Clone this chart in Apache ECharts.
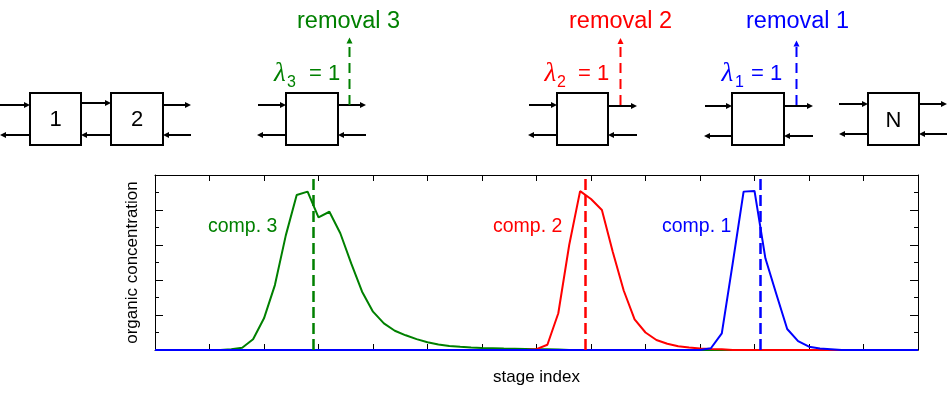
<!DOCTYPE html>
<html><head><meta charset="utf-8">
<script src="https://cdn.jsdelivr.net/npm/echarts@6/dist/echarts.min.js"></script>
<style>html,body{margin:0;padding:0;background:#fff}#c{width:948px;height:395px}</style>
</head><body><div id="c"></div>
<script>
// ---- data ----
const stages = [0,1,2,3,4,5,6,7,8,9,10,11,12,13,14,15,16,17,18,19,20,21,22,23,24,25,26,27,28,29,30,
  31,32,33,34,35,36,37,38,39,40,41,42,43,44,45,46,47,48,49,50,51,52,53,54,55,56,57,58,59,60,
  61,62,63,64,65,66,67,68,69,70];
const comp3 = [0,0,0,0,0,0,0,0.004,0.013,0.061,0.181,0.371,0.655,0.886,0.905,0.758,0.790,0.667,0.495,0.333,0.219,
  0.152,0.110,0.084,0.062,0.044,0.032,0.023,0.018,0.014,0.011,0.010,0.008,0.007,0.006,0.005,0.004,0.003,0,0,0,
  0,0,0,0,0,0,0,0,0,0,0,0,0,0,0,0,0,0,0,0,0,0,0,0,0,0,0,0,0,0];
const comp2 = [0,0,0,0,0,0,0,0,0,0,0,0,0,0,0,0,0,0,0,0,0,0,0,0,0,0,0,0,0,0,0,0,0,0,0,
  0.005,0.030,0.210,0.600,0.908,0.863,0.800,0.560,0.340,0.175,0.100,0.057,0.036,0.022,0.014,0.009,0.006,0.004,
  0,0,0,0,0,0,0,0,0,0,0,0,0,0,0,0,0,0];
const comp1 = [0,0,0,0,0,0,0,0,0,0,0,0,0,0,0,0,0,0,0,0,0,0,0,0,0,0,0,0,0,0,0,0,0,0,0,0,0,0,0,0,0,0,0,0,0,0,0,0,0,0,0,
  0.010,0.095,0.495,0.905,0.909,0.524,0.320,0.120,0.051,0.019,0.008,0.004,0,0,0,0,0,0,0,0];
const removalStages = [14.5, 39.5, 55.5];   // comp. 3, comp. 2, comp. 1
const compNames = ['comp. 3', 'comp. 2', 'comp. 1'];
const removalNames = ['removal 3', 'removal 2', 'removal 1'];
const lambdaSubs = ['3', '2', '1'];
const boxLabels = ['1', '2', 'N'];
const xTicks = { min: 0, max: 70, interval: 5 };
const yTicks = { min: 0, max: 1, interval: 0.2 };

// ---- styles ----
const colors = ['#008000', '#ff0000', '#0000ff'];
const SANS = '"Liberation Sans", Arial, sans-serif';
const SERIF = '"Liberation Serif", "Times New Roman", serif';

const chart = echarts.init(document.getElementById('c'), null, { renderer: 'canvas' });

function txt(x, y, text, color, size, opts) {
  opts = opts || {};
  const align = opts.align || 'left';
  return {
    type: 'text', x: x, y: y, z: 10,
    style: {
      text: text, fill: color,
      font: (opts.italic ? 'italic ' : '') + size + 'px ' + (opts.family || SANS),
      align: align, textAlign: align, verticalAlign: 'middle', textVerticalAlign: 'middle'
    }
  };
}
function arrow(x1, x2, y) {
  const d = Math.sign(x2 - x1), head = 6, hw = 3;
  return [
    { type: 'line', shape: { x1: x1, y1: y, x2: x2 - d * head, y2: y }, style: { stroke: '#000', lineWidth: 2 } },
    { type: 'polygon', shape: { points: [[x2, y], [x2 - d * head, y - hw], [x2 - d * head, y + hw]] }, style: { fill: '#000' } }
  ];
}
function upArrow(x, y1, y2, color) {
  return [
    { type: 'line', shape: { x1: x, y1: y1, x2: x, y2: y2 + 6 }, style: { stroke: color, lineWidth: 2, lineDash: [10, 6] } },
    { type: 'polygon', shape: { points: [[x, y2], [x - 3, y2 + 6], [x + 3, y2 + 6]] }, style: { fill: color } }
  ];
}
function box(x, w) {
  return { type: 'rect', shape: { x: x, y: 93, width: w, height: 52 }, style: { fill: '#fff', stroke: '#000', lineWidth: 2 } };
}

const g = [];
// boxes
[[30, 51], [111, 52], [286, 52], [557, 51], [732, 52], [868, 51]].forEach(b => g.push(box(b[0], b[1])));
// arrows
[[0,30,105],[30,0,135],[81,111,103],[111,81,135],[163,191,105],[191,163,135],
 [258,286,105],[286,257,135],[338,366,105],[366,338,135],
 [529,557,105],[557,528,135],[608,637,106],[637,608,135],
 [705,732,106],[732,704,136],[784,813,106],[813,784,136],
 [839,868,104],[868,839,134],[919,947,104],[947,919,134]].forEach(a => g.push(...arrow(a[0], a[1], a[2])));
// box labels
g.push(txt(55.5, 120, boxLabels[0], '#000', 22, { align: 'center' }));
g.push(txt(137, 120, boxLabels[1], '#000', 22, { align: 'center' }));
g.push(txt(893.5, 121, boxLabels[2], '#000', 22, { align: 'center' }));
// removal arrows + labels + lambdas
const remX = [349.5, 620.5, 796.5], remTip = [37.5, 38, 40.5];
const remLabelX = [297, 569, 746];
const lamX = [274, 544.5, 721.5], subX = [287, 557, 735], eqX = [309, 578, 751];
for (let i = 0; i < 3; i++) {
  g.push(...upArrow(remX[i], 105, remTip[i], colors[i]));
  g.push(txt(remLabelX[i], 22, removalNames[i], colors[i], 23.5));
  g.push(txt(lamX[i], 74, 'λ', colors[i], 27, { italic: true, family: SERIF }));
  g.push(txt(subX[i], 83, lambdaSubs[i], colors[i], 16));
  g.push(txt(eqX[i], 74, '= 1', colors[i], 22));
}
// comp labels in plot
const compLabelX = [208, 493, 662];
for (let i = 0; i < 3; i++) g.push(txt(compLabelX[i], 227, compNames[i], colors[i], 19.5));

const compData = [comp3, comp2, comp1];
const series = compData.map((vals, i) => ({
  type: 'line', name: compNames[i], xAxisIndex: 0, yAxisIndex: 0,
  data: stages.map((s, k) => [s, vals[k]]),
  showSymbol: false, symbol: 'none', silent: true,
  lineStyle: { color: colors[i], width: 2 }, itemStyle: { color: colors[i] },
  z: 2 + i,
  markLine: {
    silent: true, symbol: ['none', 'none'], label: { show: false },
    lineStyle: { color: colors[i], width: 2.5, type: [11, 5] },
    data: [{ xAxis: removalStages[i] }], animation: false
  }
}));

const axisCommon = {
  type: 'value', axisLabel: { show: false }, splitLine: { show: false }
};
function xAx(pos, name) {
  return Object.assign({}, axisCommon, {
    position: pos, min: xTicks.min, max: xTicks.max, interval: xTicks.interval,
    axisLine: { show: true, onZero: false, lineStyle: { color: '#000', width: 1 } },
    axisTick: { show: true, inside: true, length: 6, lineStyle: { color: '#000' } },
    name: name || '', nameLocation: 'middle', nameGap: 19,
    nameTextStyle: { color: '#000', fontSize: 17, fontFamily: SANS }
  });
}
function yAx(pos, name) {
  return Object.assign({}, axisCommon, {
    position: pos, min: yTicks.min, max: yTicks.max, interval: yTicks.interval,
    axisLine: { show: true, onZero: false, lineStyle: { color: '#000', width: 1 } },
    axisTick: { show: true, inside: true, length: 8, lineStyle: { color: '#000' } },
    minorTick: { show: true, splitNumber: 2, length: 4, lineStyle: { color: '#000' } },
    minorSplitLine: { show: false },
    name: name || '', nameLocation: 'middle', nameGap: 14, nameRotate: 90,
    nameTextStyle: { color: '#000', fontSize: 17, fontFamily: SANS }
  });
}

chart.setOption({
  animation: false,
  backgroundColor: '#fff',
  grid: { left: 155, right: 30, top: 175, bottom: 45, containLabel: false },
  xAxis: [xAx('bottom', 'stage index'), xAx('top')],
  yAxis: [yAx('left', 'organic concentration'), yAx('right')],
  series: series,
  graphic: { elements: g }
});
</script></body></html>
